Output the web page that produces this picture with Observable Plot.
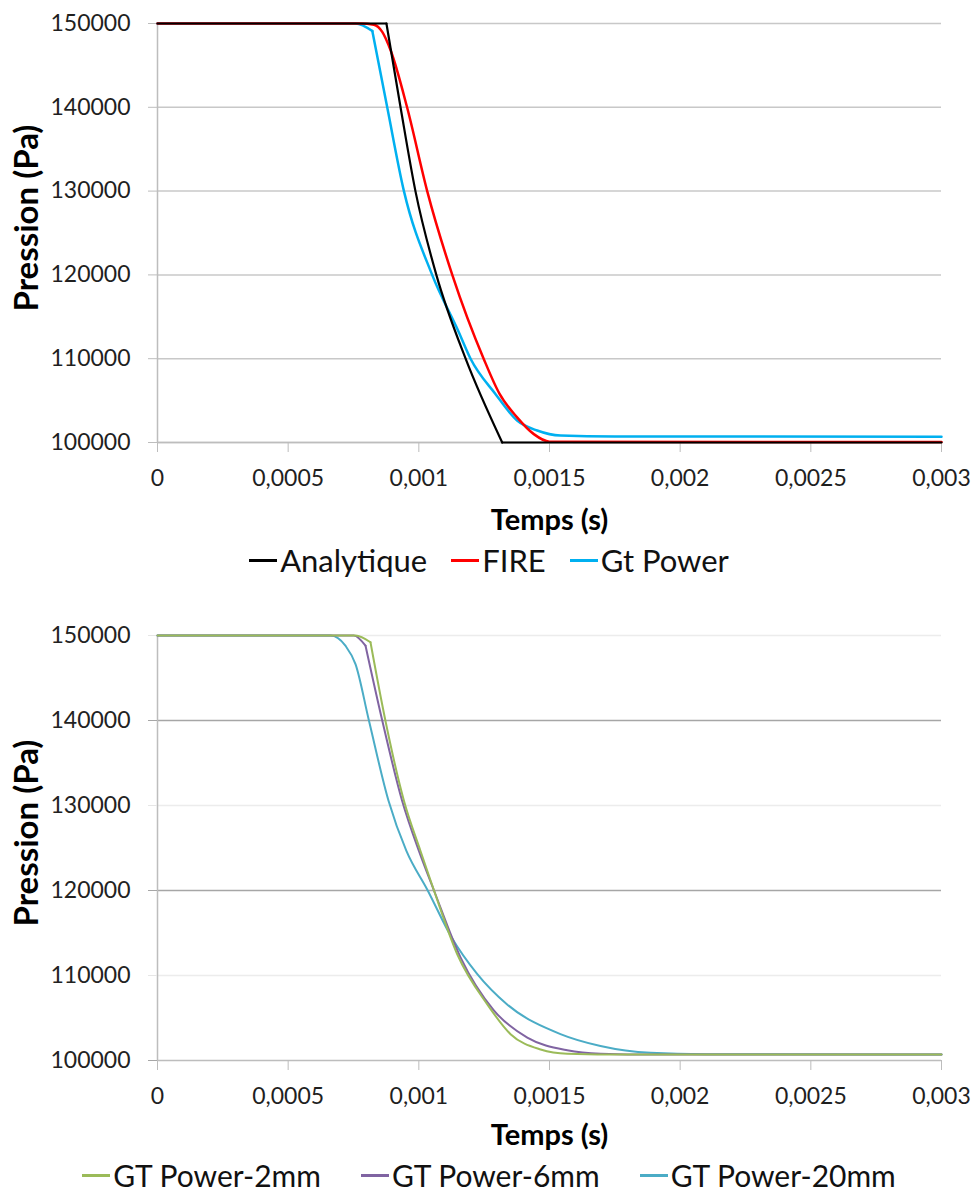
<!DOCTYPE html>
<html>
<head>
<meta charset="utf-8">
<script src="https://cdn.jsdelivr.net/npm/d3@7"></script>
<script src="https://cdn.jsdelivr.net/npm/@observablehq/plot@0.6"></script>
<style>
  html, body { margin: 0; padding: 0; background: #fff; }
  body { width: 978px; height: 1193px; position: relative; overflow: hidden; font-family: Lato, "Open Sans", sans-serif; }
  .chart { position: absolute; left: 0; }
  .legend { position: absolute; left: 0; width: 978px; display: flex; justify-content: center; align-items: center; color: #111; }
  .item { display: flex; align-items: center; }
  .sw { display: inline-block; width: 28px; height: 3px; margin-right: 3px; }
</style>
</head>
<body>
<div id="c1" class="chart" style="top:0"></div>
<div id="l1" class="legend" style="top:540px;height:40px;font-size:31px;gap:24px"></div>
<div id="c2" class="chart" style="top:595px"></div>
<div id="l2" class="legend" style="top:1155px;height:40px;font-size:30px;gap:40px"></div>
<script>
// ---- axis ticks ----
const xTicks = [0, 0.0005, 0.001, 0.0015, 0.002, 0.0025, 0.003];
const xTickLabels = ["0", "0,0005", "0,001", "0,0015", "0,002", "0,0025", "0,003"];
const yTicks = [100000, 110000, 120000, 130000, 140000, 150000];
const yTickLabels = ["100000", "110000", "120000", "130000", "140000", "150000"];

// ---- chart 1 series ----
const topNames = ["Analytique", "FIRE", "Gt Power"];
const topColors = ["#000000", "#ff0000", "#00b0f0"];
const analyticT = [0, 0.000876, 0.000930, 0.000987, 0.001067, 0.001179, 0.001319, 0.003];
const analyticP = [150000, 150000, 140000, 130000, 120000, 110000, 100000, 100000];
const analyticKinks = [0, 1, 6, 7];
const fireT = [0, 0.000777, 0.000828, 0.000860, 0.000892, 0.000955, 0.001032, 0.001128, 0.001248, 0.001309, 0.001376, 0.001440, 0.001500, 0.003];
const fireP = [150000, 150000, 149850, 149000, 146800, 140000, 130000, 120000, 110000, 105800, 103000, 101000, 100100, 100050];
const fireKinks = [0, 13];
const gtT = [0, 0.000758, 0.000822, 0.000879, 0.000943, 0.001051, 0.001153, 0.001198, 0.001293, 0.001376, 0.001453, 0.001542, 0.00175, 0.003];
const gtP = [150000, 150000, 149100, 140000, 130000, 120000, 113160, 110000, 105800, 102630, 101430, 100830, 100720, 100700];
const gtKinks = [0, 2, 13];

// ---- chart 2 series ----
const botNames = ["GT Power-2mm", "GT Power-6mm", "GT Power-20mm"];
const botColors = ["#9bbb59", "#8064a2", "#4bacc6"];
const mm2T = [0, 0.000758, 0.000815, 0.000872, 0.000943, 0.001006, 0.001058, 0.001147, 0.001262, 0.001351, 0.001466, 0.001568, 0.0018, 0.003];
const mm2P = [150000, 150000, 149200, 140000, 130560, 124680, 120000, 112500, 106600, 103100, 101300, 100800, 100700, 100700];
const mm2Kinks = [0, 2, 13];
const mm6T = [0, 0.000751, 0.000796, 0.000860, 0.000936, 0.001000, 0.001058, 0.001160, 0.001287, 0.001415, 0.001568, 0.001695, 0.0019, 0.003];
const mm6P = [150000, 150000, 148800, 140000, 130560, 124680, 120000, 112100, 105900, 102700, 101200, 100800, 100700, 100700];
const mm6Kinks = [0, 2, 13];
const mm20T = [0, 0.000662, 0.000719, 0.000758, 0.000809, 0.000884, 0.000952, 0.001034, 0.001125, 0.001223, 0.001338, 0.001542, 0.001695, 0.001887, 0.0021, 0.003];
const mm20P = [150000, 150000, 148800, 146600, 140000, 130560, 124680, 120000, 114500, 110200, 106600, 103100, 101700, 100900, 100750, 100700];
const mm20Kinks = [0, 15];

// rows split into segments at kink indices (each segment smoothed on its own)
function toRows(T, P, kinks) {
  const rows = [];
  for (let s = 0; s < kinks.length - 1; s++) {
    for (let i = kinks[s]; i <= kinks[s + 1]; i++) rows.push({t: T[i], p: P[i], seg: s});
  }
  return rows;
}
const xFmt = d => xTickLabels[xTicks.indexOf(d)];
const yFmt = d => yTickLabels[yTicks.indexOf(d)];
const FONT = "Lato, 'Open Sans', sans-serif";

function chart({height, marginTop, marginBottom, gridMarks, axisMarks, lines, ytitleDy, xtitleDy}) {
  return Plot.plot({
    width: 978, height, marginLeft: 157, marginRight: 37, marginTop, marginBottom,
    style: {fontFamily: FONT, fontSize: "23px", background: "#fff", color: "#1f1f1f"},
    x: {domain: [0, 0.003], label: null},
    y: {domain: [100000, 150000], label: null},
    marks: [
      ...gridMarks,
      Plot.ruleX([0], {stroke: "#bdbdbd", strokeWidth: 1.5}),
      Plot.ruleY([100000], {stroke: "#bdbdbd", strokeWidth: 1.5}),
      ...axisMarks,
      Plot.axisX(xTicks, {tickSize: 10, tickPadding: 17, stroke: "#bdbdbd", fill: "#1f1f1f", fontSize: 23, tickFormat: xFmt}),
      ...lines,
      Plot.text(["Pression (Pa)"], {frameAnchor: "left", rotate: -90, dx: -130, dy: ytitleDy, fontWeight: "bold", fontSize: 33, fill: "#000", textAnchor: "middle"}),
      Plot.text(["Temps (s)"], {frameAnchor: "bottom", dy: xtitleDy, fontWeight: "bold", fontSize: 29, fill: "#000", lineAnchor: "middle"})
    ]
  });
}

const lineOf = (T, P, K, color, w) =>
  Plot.line(toRows(T, P, K), {x: "t", y: "p", z: "seg", stroke: color, strokeWidth: w, curve: "monotone-x"});

const c1 = chart({
  height: 540, marginTop: 23, marginBottom: 98, ytitleDy: -15, xtitleDy: 78,
  gridMarks: [Plot.gridY(yTicks, {stroke: "#c8c8c8", strokeOpacity: 1, strokeWidth: 1.5})],
  axisMarks: [Plot.axisY(yTicks, {tickSize: 9, tickPadding: 18, stroke: "#bdbdbd", fill: "#1f1f1f", fontSize: 23, tickFormat: yFmt})],
  lines: [
    lineOf(gtT, gtP, gtKinks, topColors[2], 2.5),
    lineOf(fireT, fireP, fireKinks, topColors[1], 2.5),
    lineOf(analyticT, analyticP, analyticKinks, topColors[0], 2.2)
  ]
});
document.getElementById("c1").appendChild(c1);

const majorY = [100000, 120000, 140000];
const minorY = [110000, 130000, 150000];
const c2 = chart({
  height: 560, marginTop: 40, marginBottom: 95, ytitleDy: -15, xtitleDy: 75,
  gridMarks: [
    Plot.gridY(minorY, {stroke: "#ececec", strokeOpacity: 1, strokeWidth: 1.5}),
    Plot.gridY([120000, 140000], {stroke: "#a6a6a6", strokeOpacity: 1, strokeWidth: 1.5})
  ],
  axisMarks: [
    Plot.axisY(majorY, {tickSize: 9, tickPadding: 18, stroke: "#a6a6a6", fill: "#222", fontSize: 23, tickFormat: yFmt}),
    Plot.axisY(minorY, {tickSize: 9, tickPadding: 18, stroke: "#e6e6e6", fill: "#222", fontSize: 23, tickFormat: yFmt})
  ],
  lines: [
    lineOf(mm20T, mm20P, mm20Kinks, botColors[2], 2),
    lineOf(mm6T, mm6P, mm6Kinks, botColors[1], 2),
    lineOf(mm2T, mm2P, mm2Kinks, botColors[0], 2)
  ]
});
document.getElementById("c2").appendChild(c2);

function legend(id, names, colors, swH) {
  const el = document.getElementById(id);
  names.forEach((n, i) => {
    const it = document.createElement("div");
    it.className = "item";
    const sw = document.createElement("span");
    sw.className = "sw";
    sw.style.background = colors[i];
    sw.style.height = swH + "px";
    const tx = document.createElement("span");
    tx.textContent = n;
    it.appendChild(sw); it.appendChild(tx);
    el.appendChild(it);
  });
}
legend("l1", topNames, topColors, 3);
legend("l2", botNames, botColors, 3);
</script>
</body>
</html>
